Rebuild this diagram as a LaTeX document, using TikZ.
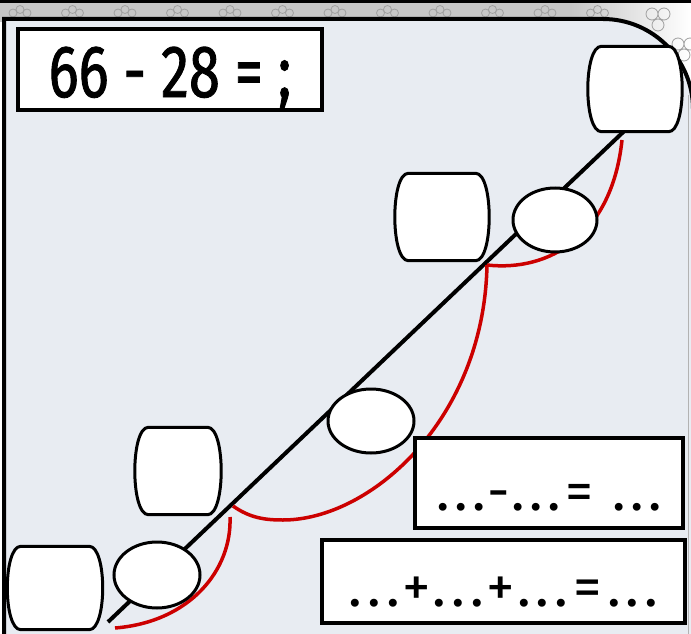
\documentclass[tikz,border=0pt]{standalone}
\usepackage{fontspec}
\setmainfont{Fira Sans}
\newfontfamily\numfont[FakeStretch=0.76,FakeBold=1.2]{Fira Sans}
\usetikzlibrary{shapes.geometric}
\definecolor{panelbg}{RGB}{232,236,242}
\definecolor{jumpred}{RGB}{204,0,0}

\begin{document}
\begin{tikzpicture}[x=1pt,y=-1pt,
    barrel/.style={inner sep=0pt},
    oval/.style={draw,ellipse,line width=3pt,fill=white,inner sep=0pt},
    qbox/.style={draw,line width=4pt,fill=white,inner sep=0pt,text height=#1,text depth=0pt},
    qbox/.default=55pt,
    jump/.style={draw=jumpred,line width=3.5pt},
    flower/.style={draw=gray!75,line width=0.8pt}]
    \useasboundingbox (0,0) rectangle (691,634);
    \clip (0,0) rectangle (691,634);
    % frame strip on top
    \fill[gray!45] (0,0) rectangle (691,22);
    \shade[left color=gray!45,right color=white] (570,0) rectangle (691,140);
    \fill[black] (0,0) rectangle (691,3);
    \foreach \i in {0,...,11}
        \draw[flower] (13+52.5*\i,13) circle (4) (20+52.5*\i,9.5) circle (4) (27+52.5*\i,13) circle (4);
    \draw[flower] (652,14) circle (6) (664,14) circle (6) (658,25) circle (6);
    \draw[flower] (678,44) circle (6) (690,44) circle (6) (684,55) circle (6);
    % panel
    \draw[line width=4pt,fill=panelbg] (4,19) -- (603,19)
        arc[start angle=-90,end angle=0,radius=90] -- (693,660) -- (4,660) -- cycle;
    \draw[gray!60,line width=1.5pt] (688.5,95) -- (688.5,634);
    % boxes and jumps
    \node[barrel,minimum width=95pt,minimum height=85pt] (B1) at (635,89) {};
    \node[barrel,minimum width=95pt,minimum height=87pt] (B2) at (442,217) {};
    \node[barrel,minimum width=87pt,minimum height=87pt] (B3) at (178,471) {};
    \node[barrel,minimum width=96pt,minimum height=83pt] (B4) at (55,588) {};
    \foreach \b in {B1,B2,B3,B4}
        \draw[line width=3pt,fill=white] ([xshift=14pt]\b.north west) -- ([xshift=-14pt]\b.north east)
            .. controls ([xshift=4pt]\b.north east) and ([xshift=4pt]\b.south east) .. ([xshift=-14pt]\b.south east)
            -- ([xshift=14pt]\b.south west)
            .. controls ([xshift=-4pt]\b.south west) and ([xshift=-4pt]\b.north west) .. cycle;
    \coordinate (L0) at (108,622);
    \draw[line width=4pt] (L0) -- (B1.-105);
    \coordinate (J0) at (115,628);
    \coordinate (J1) at (230,517);
    \coordinate (J1a) at (233,506);
    \coordinate (J2) at (487,265);
    \coordinate (J3) at (622,140);
    \draw[jump] (J0) .. controls (190,622) and (232,570) .. (J1);
    \draw[jump] (J1a) .. controls (250,518) and (265,520) .. (283,520)
        .. controls (370,520) and (484,420) .. (J2);
    \draw[jump] (J2) .. controls (550,272) and (612,235) .. (J3);
    \node[oval,minimum width=86pt,minimum height=66pt] (E1) at (157,575) {};
    \node[oval,minimum width=86pt,minimum height=64pt] (E2) at (371,421) {};
    \node[oval,minimum width=84pt,minimum height=64pt] (E3) at (555,220) {};
    % equations
    \node[qbox,minimum width=304pt,minimum height=81pt] (Q0) at (170,69.5)
        {\numfont\fontsize{74}{74}\selectfont 66 - 28 = ;};
    \node[qbox,minimum width=268pt,minimum height=90pt] (Q1) at (549,483)
        {\addfontfeature{LetterSpace=8}\fontsize{56}{56}\selectfont ...-...= ...};
    \node[qbox=50pt,minimum width=363pt,minimum height=83pt] (Q2) at (503.5,581.5)
        {\addfontfeature{LetterSpace=9}\fontsize{57}{57}\selectfont ...+...+...=...};
\end{tikzpicture}
\end{document}
